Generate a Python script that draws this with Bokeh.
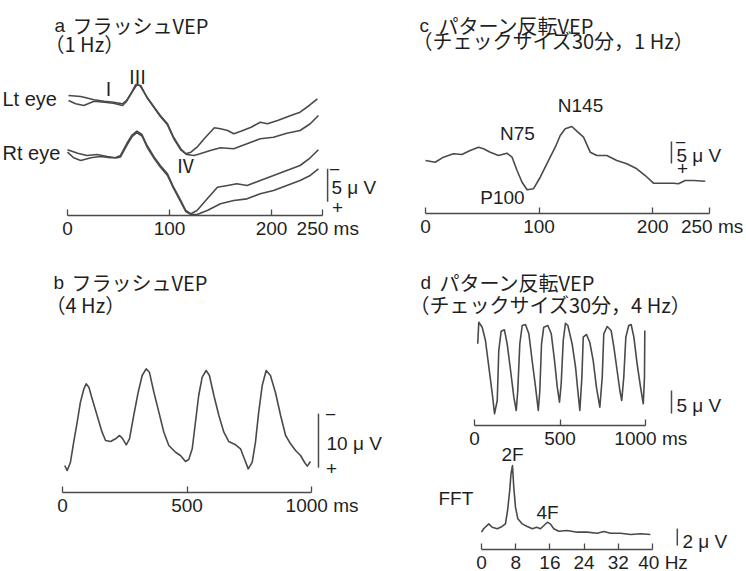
from bokeh.plotting import figure
from bokeh.models import Range1d, LinearAxis, FixedTicker
from bokeh.embed import file_html
from bokeh.resources import INLINE
from bokeh.core.properties import value

# ---------------- data ----------------
# a: flash VEP 1 Hz (ms, uV; negative up)
lt1_t = [1, 13, 26, 36, 45, 54, 58, 63, 67, 71, 78, 85, 91, 98, 104, 111, 116, 121, 127, 134,
         144, 150, 157, 163, 170, 180, 189, 196, 206, 219, 228, 237, 245]
lt1_v = [-0.3, -0.15, 0.35, 0.56, 0.71, 0.95, 0.45, -0.8, -1.97, -1.82, -0.05, 1.47, 2.73, 3.98, 6.02, 7.77, 8.53, 8.29, 7.53, 6.26,
         4.59, 4.74, 5.0, 5.5, 5.11, 4.5, 3.74, 3.98, 3.48, 2.73, 2.23, 1.21, 0.2]
lt2_t = [1, 8, 16, 26, 36, 45, 54, 58, 63, 68, 72, 78, 85, 91, 98, 104, 111, 117, 124, 130,
         140, 150, 163, 176, 189, 202, 215, 228, 238, 246]
lt2_v = [0.45, 0.95, 1.21, 0.56, 0.71, 0.86, 1.21, 0.56, -0.76, -1.92, -1.77, 0.05, 1.56, 2.88, 4.14, 6.17, 7.92, 8.64, 8.79, 8.53,
         8.03, 7.62, 7.77, 7.02, 6.26, 6.02, 5.41, 5.0, 3.98, 2.73]
rt1_t = [0, 10, 19, 29, 39, 47, 52, 58, 63, 68, 73, 78, 85, 91, 98, 104, 111, 116, 121, 127,
         137, 147, 157, 166, 176, 189, 202, 215, 228, 238, 246]
rt1_v = [-0.41, 0.11, 0.45, 0.3, 0.61, 0.8, 0.45, -1.32, -2.58, -3.23, -2.73, -1.06, 0.71, 1.97, 3.23, 5.26, 7.27, 8.79, 9.29, 8.79,
         7.02, 5.26, 5.0, 4.74, 5.0, 4.24, 3.48, 2.73, 1.97, 0.8, -0.41]
rt2_t = [0, 6, 13, 23, 32, 42, 49, 52, 58, 63, 68, 73, 78, 85, 91, 98, 104, 111, 116, 121,
         127, 137, 150, 163, 176, 189, 202, 215, 228, 238, 246]
rt2_v = [-0.05, 0.8, 1.21, 0.8, 0.61, 0.8, 0.8, 0.68, -1.06, -2.35, -3.03, -2.5, -0.83, 0.91, 2.2, 3.48, 5.45, 7.5, 8.94, 9.39,
         9.39, 8.79, 7.77, 7.27, 7.02, 6.26, 5.76, 5.0, 4.24, 3.48, 2.47]

# c: pattern reversal VEP 1 Hz
c_t = [0, 8.5, 15.8, 24.6, 32, 39.3, 46.7, 51, 57, 64.3, 71.6, 76.2, 80.6, 85, 89.4, 95, 101, 106.8, 114.2, 118.6,
       123, 128.8, 133.2, 139.1, 145, 150.8, 159.6, 168.4, 177.2, 186, 193.4, 200.7, 209.5, 218.3, 222.7, 228.6, 236, 246.2]
c_v = [0, 0.39, -0.76, -1.52, -1.36, -2.27, -3.02, -2.66, -1.89, -1.14, -1.66, -0.76, 2.27, 4.93, 6.66, 6.43, 3.8, 0.75, -3.02, -5.68,
       -7.2, -7.73, -6.66, -5.3, -1.89, -1.14, -1.14, 0, 0.75, 1.89, 3.41, 5.16, 5.16, 5.16, 5.3, 4.55, 4.55, 4.7]

# b: flash VEP 4 Hz
b_t = [9, 19, 32, 45, 59, 72, 86, 95, 106, 119, 139, 159, 173, 193, 213, 229, 240, 256, 269, 286,
       304, 320, 336, 349, 367, 387, 407, 427, 454, 474, 494, 507, 521, 534, 547, 561, 577, 590, 608, 628,
       648, 668, 695, 715, 728, 746, 762, 775, 788, 802, 818, 835, 855, 876, 896, 916, 936, 956, 973, 983, 996]
b_v = [0, 0.93, -0.61, -4.32, -8.02, -11.72, -14.2, -15.13, -14.5, -12.35, -9.26, -6.17, -4.63, -4.44, -4.94, -5.56, -5.06, -3.83, -4.94, -9.26,
       -13.57, -16.67, -17.9, -17.28, -13.57, -9.88, -6.17, -3.7, -2.46, -1.85, -0.74, -1.11, -3.09, -8.02, -12.96, -16.36, -17.59, -16.67, -12.96, -9.26,
       -6.17, -4.44, -3.83, -3.09, -1.54, 0.62, -0.62, -4.32, -9.88, -14.81, -17.59, -16.67, -13.57, -9.26, -5.56, -4.01, -2.78, -1.85, -0.51, 0.12, -0.74]

# d: pattern reversal VEP 4 Hz
d_t = [19, 25, 45, 64, 84, 104, 117, 133, 142, 156, 175, 191, 211, 230, 244, 253, 265, 279, 298, 318,
       337, 357, 373, 382, 392, 405, 429, 449, 468, 484, 497, 507, 519, 532, 546, 571, 591, 604, 616, 628,
       636, 655, 674, 694, 713, 733, 747, 756, 776, 799, 815, 834, 850, 861, 873, 885, 902, 916, 932, 951,
       971, 987, 994, 996]
d_v = [-5.8, -10.5, -9.41, -6.52, -0.72, 5.07, 9.41, 6.52, -4.35, -8.54, -8.85, -5.8, 0, 5.8, 8.7, 4.35, -5.8, -9.78, -10, -7.98,
       -2.17, 3.63, 8.7, 4.35, -5.8, -9.41, -9.78, -7.98, -2.17, 3.63, 6.89, 2.89, -6.52, -10.28, -9.78, -5.8, -0.72, 4.35, 8.7, 1.46,
       -7.24, -7.83, -6.15, -2.17, 3.63, 7.98, 1.46, -7.98, -9.57, -8.7, -5.07, 0, 4.35, 6.52, 1.46, -7.24, -9.78, -10, -7.24, -1.46,
       3.63, 7.24, 1.46, -8.7]

# d: FFT (Hz, uV)
fft_f = [0, 0.5, 1.7, 2.5, 3.7, 4.8, 5.6, 6.1, 6.6, 6.9, 7.25, 7.55, 7.95, 8.5, 9.5, 10.7, 11.9, 12.9, 13.8, 14.6,
         15.4, 16.1, 16.9, 18.1, 20.0, 22.4, 24.7, 27.1, 28.6, 30.2, 32.5, 34.9, 37.2, 39.5]
fft_a = [0.98, 1.38, 1.96, 1.56, 1.38, 1.65, 1.96, 3.53, 5.88, 7.85, 8.82, 6.27, 3.92, 2.55, 1.96, 1.65, 1.38, 1.56, 1.38, 1.76,
         2.15, 1.96, 1.38, 1.09, 1.18, 0.98, 0.98, 0.86, 1.06, 0.86, 0.86, 0.71, 0.79, 0.71]

ticks_a = [0, 100, 200, 250]
ticks_c = [0, 100, 200, 250]
ticks_b = [0, 500, 1000]
ticks_d = [0, 500, 1000]
ticks_f = [0, 8, 16, 24, 32, 40]
scale_a = 5
scale_b = 10
scale_c = 5
scale_d = 5
scale_f = 2

# ---------------- figure ----------------
W, H = 746, 571
LC = "#4a4a4a"
TC = "#1f1f1f"
LATIN = "Liberation Sans"
CJK = "Noto Sans CJK JP"
NB = "\u00a0"

p = figure(width=W, height=H, x_range=Range1d(0, W), y_range=Range1d(H, 0),
           output_backend="svg", toolbar_location=None, min_border=0,
           x_axis_type=None, y_axis_type=None)
p.outline_line_color = None
p.background_fill_color = "white"
p.border_fill_color = "white"

xr, yr = {}, {}
def xrange(name, px0, k):
    xr[name] = Range1d(-px0 / k, (W - px0) / k)
def yrange_down(name, py0, k):   # values increase downwards (negative up)
    yr[name] = Range1d((H - py0) / k, -py0 / k)
def yrange_up(name, py0, k):
    yr[name] = Range1d(-(H - py0) / k, py0 / k)

xrange("ax", 67, 1.02)
yrange_down("aL", 97, 6.6)
yrange_down("aR", 152, 6.6)
xrange("cx", 425, 1.136)
yrange_down("cy", 160, 4.4)
xrange("bx", 62, 0.249)
yrange_down("by", 465, 5.4)
xrange("dx", 474, 0.171)
yrange_down("dy", 370, 4.6)
xrange("fx", 481, 4.275)
yrange_up("fy", 540, 8.5)
p.extra_x_ranges = xr
p.extra_y_ranges = yr

def trace(t, v, xn, yn):
    p.line(t, v, x_range_name=xn, y_range_name=yn, line_color=LC, line_width=1.6,
           line_join="round")

trace(lt1_t, lt1_v, "ax", "aL")
trace(lt2_t, lt2_v, "ax", "aL")
trace(rt1_t, rt1_v, "ax", "aR")
trace(rt2_t, rt2_v, "ax", "aR")
trace(c_t, c_v, "cx", "cy")
trace(b_t, b_v, "bx", "by")
trace(d_t, d_v, "dx", "dy")
trace(fft_f, fft_a, "fx", "fy")

def bar(xpos, top, length, xn, yn):
    p.segment(x0=[xpos], y0=[top], x1=[xpos], y1=[top + length],
              x_range_name=xn, y_range_name=yn, line_color=LC, line_width=1.5)

bar(255, 10.8, scale_a, "ax", "aL")
bar(216.5, -4.3, scale_c, "cx", "cy")
bar(1028, -9.6, scale_b, "bx", "by")
bar(1152, 4.35, scale_d, "dx", "dy")
bar(45.8, -0.6, scale_f, "fx", "fy")

def axis(xn, ypx, ticks, unit, pad):
    ax = LinearAxis(x_range_name=xn, fixed_location=ypx, bounds=(ticks[0], ticks[-1]),
                    ticker=FixedTicker(ticks=ticks),
                    major_label_overrides={ticks[-1]: NB * pad + f"{ticks[-1]} {unit}"},
                    major_tick_in=6, major_tick_out=0, minor_tick_in=0, minor_tick_out=0,
                    axis_line_color=LC, axis_line_width=1.3,
                    major_tick_line_color=LC, major_tick_line_width=1.3,
                    major_label_text_font=LATIN, major_label_text_font_size="19px",
                    major_label_text_color=TC, major_label_standoff=2)
    p.add_layout(ax, "below")

axis("ax", 215, ticks_a, "ms", 2)
axis("cx", 213, ticks_c, "ms", 1)
axis("bx", 492, ticks_b, "ms", 4)
axis("dx", 425, ticks_d, "ms", 2)
axis("fx", 549, ticks_f, "Hz", 4)

def label(x, y, s, font=LATIN, size="19px", align="left"):
    p.text(x=[x], y=[y], text=[s], text_font=value(font), text_font_size=size,
           text_color=TC, text_align=align, text_baseline="middle")

JS = "20px"
# titles
label(54, 25, "a")
label(72, 25, "フラッシュVEP", CJK, JS)
label(44, 43, "（1 Hz）", CJK, JS)
label(419, 25, "c")
label(438, 25, "パターン反転VEP", CJK, JS)
label(412, 40, "（チェックサイズ30分，1 Hz）", CJK, JS)
label(53, 282, "b")
label(71, 282, "フラッシュVEP", CJK, JS)
label(45, 304, "（4 Hz）", CJK, JS)
label(420, 282, "d")
label(439, 282, "パターン反転VEP", CJK, JS)
label(409, 304, "（チェックサイズ30分，4 Hz）", CJK, JS)

# panel a annotations
label(2, 98, "Lt eye", size="20px")
label(2, 152, "Rt eye", size="20px")
label(108, 87, "Ⅰ", CJK, "19px", "center")
label(137, 75, "Ⅲ", CJK, "19px", "center")
label(185, 164, "Ⅳ", CJK, "19px", "center")
label(334, 169, "−", align="center")
label(331, 187, "5 μ V")
label(337, 207, "+", align="center")

# panel c annotations
label(580, 105, "N145", align="center")
label(517, 133, "N75", align="center")
label(502, 197, "P100", align="center")
label(680, 142, "−", align="center")
label(676, 155, "5 μ V")
label(682, 168, "+", align="center")

# panel b annotations
label(330, 414, "−", align="center")
label(326, 443, "10 μ V")
label(331, 468, "+", align="center")

# panel d annotations
label(676, 405, "5 μ V")
label(438, 498, "FFT")
label(512, 454, "2F", align="center")
label(547, 512, "4F", align="center")
label(682, 541, "2 μ V")

open("out.html", "w").write(file_html(p, INLINE))
